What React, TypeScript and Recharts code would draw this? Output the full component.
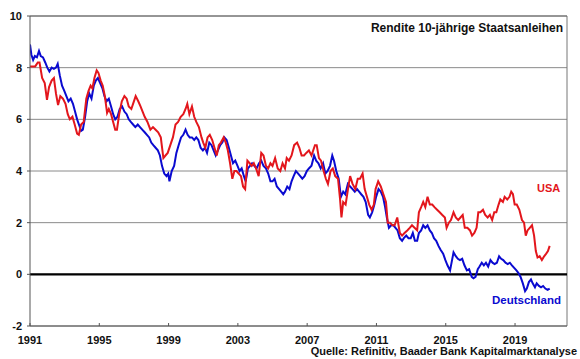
import React from 'react';
import { LineChart, Line, XAxis, YAxis, CartesianGrid, ReferenceLine } from 'recharts';

const FONT = "Arial, 'Liberation Sans', sans-serif";

const xTicks = [1991, 1995, 1999, 2003, 2007, 2011, 2015, 2019];
const yTicks = [-2, 0, 2, 4, 6, 8, 10];

// USA 10y yield (time in decimal years)
const usaTime = [
  1991.0, 1991.15, 1991.3, 1991.45, 1991.55, 1991.7, 1991.85, 1991.98, 1992.1, 1992.25, 1992.38, 1992.5, 1992.62, 1992.75, 1992.9,
  1993.05, 1993.18, 1993.3, 1993.45, 1993.58, 1993.72, 1993.82, 1993.95, 1994.1, 1994.25, 1994.38, 1994.5, 1994.6, 1994.72, 1994.85, 1994.95,
  1995.08, 1995.2, 1995.32, 1995.45, 1995.55, 1995.68, 1995.8, 1995.92, 1996.02, 1996.15, 1996.3, 1996.45, 1996.58, 1996.7, 1996.85, 1996.95,
  1997.1, 1997.25, 1997.38, 1997.5, 1997.62, 1997.78, 1997.95, 1998.1, 1998.25, 1998.4, 1998.55, 1998.7, 1998.82, 1998.95,
  1999.1, 1999.25, 1999.4, 1999.55, 1999.7, 1999.85, 1999.98, 2000.08, 2000.2, 2000.35, 2000.48, 2000.6, 2000.75, 2000.9,
  2001.0, 2001.12, 2001.25, 2001.38, 2001.52, 2001.65, 2001.78, 2001.9, 2002.02, 2002.18, 2002.3, 2002.42, 2002.55, 2002.68, 2002.8, 2002.92,
  2003.05, 2003.18, 2003.3, 2003.42, 2003.55, 2003.68, 2003.8, 2003.92, 2004.05, 2004.2, 2004.35, 2004.48, 2004.62, 2004.75, 2004.88,
  2005.0, 2005.15, 2005.3, 2005.45, 2005.58, 2005.72, 2005.82, 2005.95, 2006.1, 2006.25, 2006.42, 2006.55, 2006.68, 2006.82, 2006.95,
  2007.1, 2007.25, 2007.45, 2007.55, 2007.68, 2007.8, 2007.95, 2008.08, 2008.2, 2008.35, 2008.48, 2008.62, 2008.78, 2008.9, 2008.98,
  2009.08, 2009.22, 2009.38, 2009.48, 2009.62, 2009.78, 2009.92, 2010.05, 2010.2, 2010.32, 2010.45, 2010.58, 2010.72, 2010.85, 2010.95,
  2011.1, 2011.25, 2011.4, 2011.55, 2011.65, 2011.78, 2011.92, 2012.05, 2012.2, 2012.35, 2012.48, 2012.62, 2012.78, 2012.92,
  2013.05, 2013.2, 2013.35, 2013.45, 2013.58, 2013.7, 2013.82, 2013.95, 2014.08, 2014.22, 2014.35, 2014.5, 2014.65, 2014.8, 2014.95,
  2015.05, 2015.18, 2015.3, 2015.45, 2015.58, 2015.72, 2015.85, 2015.98, 2016.1, 2016.25, 2016.4, 2016.52, 2016.65, 2016.78, 2016.88,
  2017.0, 2017.15, 2017.28, 2017.42, 2017.55, 2017.68, 2017.8, 2017.92, 2018.05, 2018.15, 2018.3, 2018.4, 2018.55, 2018.68, 2018.78, 2018.88, 2018.98,
  2019.1, 2019.25, 2019.4, 2019.52, 2019.62, 2019.72, 2019.85, 2019.98, 2020.1, 2020.2, 2020.3, 2020.42, 2020.55, 2020.68, 2020.8, 2020.9, 2021.0,
];
const usaYield = [
  8.05, 8.05, 8.05, 8.2, 8.2, 7.6, 7.4, 6.75, 7.25, 7.5, 7.6, 7.0, 6.55, 6.9, 6.8,
  6.6, 6.2, 6.0, 6.1, 5.8, 5.45, 5.4, 5.8, 5.9, 6.8, 7.1, 7.3, 7.2, 7.6, 7.9, 7.8,
  7.5, 7.3, 6.9, 6.25, 6.4, 6.2, 5.9, 5.6, 5.6, 6.2, 6.7, 6.9, 6.8, 6.5, 6.4, 6.6,
  6.9, 6.7, 6.5, 6.3, 6.1, 5.9, 5.6, 5.7, 5.6, 5.5, 5.3, 4.5, 4.6, 4.7,
  5.0, 5.3, 5.8, 5.9, 6.1, 6.2, 6.4, 6.6, 6.2, 6.5, 6.1, 5.9, 5.7, 5.3,
  5.1, 4.9, 5.3, 5.4, 5.2, 4.9, 4.6, 5.0, 5.1, 5.3, 5.1, 4.8, 4.3, 3.7, 4.0, 4.0,
  3.9, 3.8, 3.4, 3.3, 4.4, 4.3, 4.2, 4.3, 4.1, 3.8, 4.7, 4.6, 4.2, 4.1, 4.3,
  4.2, 4.5, 4.1, 4.0, 4.3, 4.1, 4.5, 4.4, 4.6, 5.0, 5.1, 4.9, 4.6, 4.6, 4.7,
  4.8, 4.6, 5.0, 5.0, 4.5, 4.4, 4.0, 3.7, 3.5, 4.0, 4.1, 3.8, 3.7, 2.9, 2.2,
  2.8, 2.7, 3.4, 3.8, 3.5, 3.3, 3.7, 3.7, 3.9, 3.3, 3.0, 2.7, 2.5, 2.7, 3.3,
  3.6, 3.4, 3.1, 2.8, 2.0, 2.0, 1.9, 1.9, 2.2, 1.6, 1.5, 1.6, 1.7, 1.8,
  1.9, 1.8, 1.7, 2.4, 2.6, 2.8, 2.6, 3.0, 2.7, 2.7, 2.6, 2.5, 2.4, 2.3, 2.2,
  1.8, 2.0, 2.1, 2.4, 2.2, 2.1, 2.2, 2.3, 1.8, 1.8, 1.7, 1.5, 1.6, 1.8, 2.4,
  2.4, 2.5, 2.3, 2.2, 2.3, 2.1, 2.4, 2.4, 2.7, 2.9, 2.8, 3.0, 2.9, 3.0, 3.2, 3.1, 2.7,
  2.7, 2.5, 2.1, 2.0, 1.5, 1.7, 1.8, 1.9, 1.5, 0.9, 0.65, 0.7, 0.55, 0.7, 0.8, 0.9, 1.1,
];

// Deutschland 10y yield
const deTime = [
  1991.0, 1991.08, 1991.18, 1991.28, 1991.4, 1991.52, 1991.62, 1991.75, 1991.88, 1992.0, 1992.12, 1992.25, 1992.38, 1992.5, 1992.6, 1992.72, 1992.85, 1992.98,
  1993.1, 1993.22, 1993.35, 1993.48, 1993.6, 1993.72, 1993.85, 1993.95, 1994.05, 1994.18, 1994.3, 1994.42, 1994.55, 1994.68, 1994.8, 1994.92,
  1995.05, 1995.18, 1995.3, 1995.42, 1995.55, 1995.68, 1995.8, 1995.92, 1996.05, 1996.18, 1996.32, 1996.45, 1996.58, 1996.7, 1996.82, 1996.95,
  1997.08, 1997.22, 1997.35, 1997.48, 1997.62, 1997.75, 1997.88, 1998.0, 1998.12, 1998.25, 1998.38, 1998.5, 1998.62, 1998.75, 1998.88, 1998.98,
  1999.05, 1999.18, 1999.32, 1999.45, 1999.58, 1999.72, 1999.85, 1999.98, 2000.1, 2000.22, 2000.35, 2000.48, 2000.6, 2000.72, 2000.85, 2000.98,
  2001.1, 2001.22, 2001.35, 2001.48, 2001.6, 2001.72, 2001.85, 2001.98, 2002.1, 2002.22, 2002.35, 2002.48, 2002.6, 2002.72, 2002.85, 2002.98,
  2003.1, 2003.22, 2003.35, 2003.45, 2003.58, 2003.7, 2003.82, 2003.95, 2004.08, 2004.22, 2004.35, 2004.48, 2004.62, 2004.75, 2004.88,
  2005.0, 2005.12, 2005.25, 2005.38, 2005.5, 2005.62, 2005.72, 2005.85, 2005.98, 2006.1, 2006.22, 2006.35, 2006.48, 2006.6, 2006.72, 2006.85, 2006.98,
  2007.1, 2007.25, 2007.4, 2007.52, 2007.65, 2007.78, 2007.92, 2008.05, 2008.18, 2008.32, 2008.45, 2008.55, 2008.68, 2008.82, 2008.95,
  2009.08, 2009.2, 2009.35, 2009.48, 2009.62, 2009.75, 2009.88, 2010.0, 2010.12, 2010.25, 2010.38, 2010.52, 2010.62, 2010.75, 2010.88, 2010.98,
  2011.12, 2011.25, 2011.38, 2011.5, 2011.6, 2011.72, 2011.85, 2011.98, 2012.1, 2012.22, 2012.35, 2012.48, 2012.58, 2012.72, 2012.85, 2012.98,
  2013.1, 2013.22, 2013.35, 2013.45, 2013.58, 2013.7, 2013.82, 2013.95, 2014.08, 2014.2, 2014.32, 2014.45, 2014.58, 2014.7, 2014.85, 2014.98,
  2015.1, 2015.25, 2015.35, 2015.45, 2015.58, 2015.7, 2015.82, 2015.95, 2016.08, 2016.22, 2016.35, 2016.5, 2016.6, 2016.72, 2016.85, 2016.95,
  2017.08, 2017.2, 2017.32, 2017.45, 2017.58, 2017.7, 2017.82, 2017.95, 2018.08, 2018.2, 2018.32, 2018.45, 2018.58, 2018.7, 2018.82, 2018.95,
  2019.08, 2019.2, 2019.32, 2019.45, 2019.58, 2019.68, 2019.8, 2019.92, 2020.02, 2020.15, 2020.25, 2020.38, 2020.5, 2020.62, 2020.75, 2020.88, 2021.0,
];
const deYield = [
  8.9, 8.5, 8.3, 8.45, 8.4, 8.65, 8.45, 8.4, 8.2, 8.0, 7.85, 8.0, 7.95, 8.0, 8.15, 7.7, 7.3, 7.1,
  6.9, 6.7, 6.8, 6.6, 6.3, 6.0, 5.75, 5.55, 5.6, 6.1, 6.7, 7.0, 6.8, 7.3, 7.5, 7.6,
  7.4, 7.2, 6.9, 6.7, 6.8, 6.5, 6.2, 6.0, 6.1, 6.4, 6.5, 6.3, 6.2, 6.0, 5.9, 5.8,
  5.7, 5.8, 5.7, 5.6, 5.5, 5.4, 5.3, 5.1, 5.0, 4.9, 4.8, 4.6, 4.2, 3.9, 3.8, 3.9,
  3.6, 4.0, 4.2, 4.7, 5.0, 5.3, 5.4, 5.6, 5.4, 5.3, 5.3, 5.2, 5.3, 5.2, 4.9, 4.8,
  4.9, 4.7, 5.1, 5.0, 4.8, 4.6, 4.8, 5.0, 5.1, 5.3, 5.2, 4.9, 4.6, 4.3, 4.4, 4.2,
  4.0, 4.1, 3.8, 3.6, 4.1, 4.2, 4.3, 4.2, 4.1, 4.3, 4.4, 4.2, 4.1, 3.9, 3.6,
  3.6, 3.7, 3.4, 3.3, 3.2, 3.1, 3.2, 3.4, 3.3, 3.6, 3.8, 4.0, 3.9, 3.8, 3.7, 3.8, 4.0,
  4.1, 4.2, 4.6, 4.4, 4.3, 4.1, 4.3, 3.9, 4.0, 4.2, 4.6, 4.4, 4.0, 3.7, 3.0,
  3.2, 3.1, 3.5, 3.4, 3.3, 3.2, 3.3, 3.2, 3.1, 3.0, 2.8, 2.3, 2.2, 2.4, 2.7, 3.0,
  3.3, 3.2, 3.0, 2.6, 2.2, 1.8, 1.9, 1.9, 1.8, 1.7, 1.4, 1.3, 1.4, 1.5, 1.4, 1.4,
  1.6, 1.3, 1.3, 1.6, 1.7, 1.9, 1.8, 1.9, 1.7, 1.6, 1.4, 1.3, 1.1, 0.95, 0.8, 0.55,
  0.35, 0.15, 0.5, 0.85, 0.7, 0.6, 0.55, 0.6, 0.35, 0.15, 0.2, -0.1, -0.15, -0.1, 0.2, 0.3,
  0.45, 0.35, 0.45, 0.3, 0.55, 0.45, 0.4, 0.45, 0.7, 0.6, 0.55, 0.45, 0.4, 0.45, 0.35, 0.25,
  0.15, 0.05, -0.1, -0.35, -0.65, -0.55, -0.3, -0.2, -0.35, -0.5, -0.35, -0.45, -0.5, -0.45, -0.55, -0.6, -0.55,
];

const usaData = usaTime.map((t, i) => ({ t, v: usaYield[i] }));
const deData = deTime.map((t, i) => ({ t, v: deYield[i] }));

const XTick = (props: any) => {
  const { x, y, payload } = props;
  return (
    <g>
      <line x1={x} x2={x} y1={y - 3} y2={y} stroke="#555" />
      <text x={x} y={y + 18} textAnchor="middle" fontFamily={FONT} fontWeight="bold" fontSize={11} fill="#111">
        {payload.value}
      </text>
    </g>
  );
};

const YTick = (props: any) => {
  const { x, y, payload } = props;
  return (
    <g>
      <line x1={x - 3} x2={x} y1={y} y2={y} stroke="#555" />
      <text x={x - 8} y={y + 4} textAnchor="end" fontFamily={FONT} fontWeight="bold" fontSize={11} fill="#111">
        {payload.value}
      </text>
    </g>
  );
};

const label = (extra: React.CSSProperties): React.CSSProperties => ({
  position: 'absolute',
  fontFamily: FONT,
  fontWeight: 'bold',
  whiteSpace: 'nowrap',
  lineHeight: 1,
  ...extra,
});

export default function App() {
  return (
    <div style={{ position: 'absolute', left: 0, top: 0, width: 580, height: 359, background: '#fff' }}>
      <LineChart width={580} height={359} margin={{ top: 16, right: 13, bottom: 0, left: 0 }}>
        <CartesianGrid vertical={false} stroke="#8a8a8a" />
        <XAxis
          dataKey="t"
          type="number"
          domain={[1991, 2022]}
          ticks={xTicks}
          allowDataOverflow
          height={33}
          tickSize={0}
          tickMargin={0}
          tickLine={false}
          axisLine={{ stroke: '#555' }}
          tick={<XTick />}
          interval={0}
        />
        <YAxis
          type="number"
          domain={[-2, 10]}
          ticks={yTicks}
          width={30}
          tickSize={0}
          tickMargin={0}
          tickLine={false}
          axisLine={{ stroke: '#555' }}
          tick={<YTick />}
          interval={0}
        />
        <ReferenceLine x={2022} stroke="#777" />
        <ReferenceLine y={10} stroke="#666" />
        <ReferenceLine y={0} stroke="#000" strokeWidth={2.2} />
        <Line data={deData} dataKey="v" type="linear" stroke="#0a0ad0" strokeWidth={2} dot={false} isAnimationActive={false} />
        <Line data={usaData} dataKey="v" type="linear" stroke="#e3161c" strokeWidth={2} dot={false} isAnimationActive={false} />
      </LineChart>
      <div style={label({ right: 17, top: 22, fontSize: 12, color: '#111' })}>Rendite 10-jährige Staatsanleihen</div>
      <div style={label({ left: 537, top: 183, fontSize: 11, color: '#e3161c' })}>USA</div>
      <div style={label({ left: 492, top: 295, fontSize: 11.5, color: '#0a0ad0' })}>Deutschland</div>
      <div style={label({ right: 3, top: 346, fontSize: 11, color: '#111' })}>Quelle: Refinitiv, Baader Bank Kapitalmarktanalyse</div>
    </div>
  );
}
